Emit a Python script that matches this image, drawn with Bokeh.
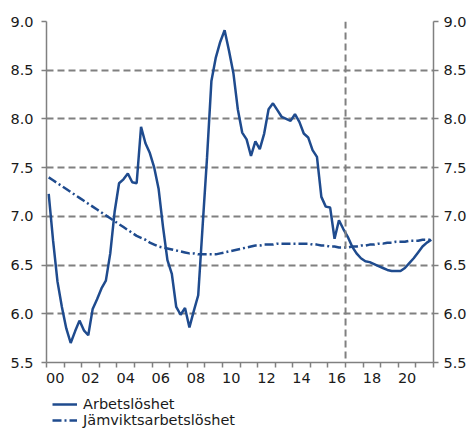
from bokeh.plotting import figure
from bokeh.layouts import column
from bokeh.models import (FixedTicker, LinearAxis, Range1d, Span, Legend, LegendItem,
                          PrintfTickFormatter, CustomJSTickFormatter)
from bokeh.embed import file_html
from bokeh.resources import INLINE

# ---- data (quarterly, 2000Q1 - 2021Q4) ----
start_year = 2000
unemployment = [
    7.23, 6.75, 6.33, 6.07, 5.85, 5.70, 5.82, 5.93, 5.83, 5.78,
    6.05, 6.15, 6.26, 6.34, 6.62, 7.05, 7.34, 7.38, 7.44, 7.35,
    7.34, 7.92, 7.75, 7.65, 7.50, 7.28, 6.89, 6.55, 6.41, 6.07,
    5.99, 6.06, 5.86, 6.03, 6.19, 6.90, 7.60, 8.39, 8.63, 8.79,
    8.91, 8.70, 8.47, 8.10, 7.86, 7.79, 7.62, 7.77, 7.69, 7.85,
    8.10, 8.16, 8.09, 8.02, 8.00, 7.98, 8.05, 7.97, 7.85, 7.81,
    7.68, 7.61, 7.20, 7.10, 7.09, 6.77, 6.96, 6.87, 6.79, 6.69,
    6.62, 6.57, 6.54, 6.53, 6.51, 6.49, 6.47, 6.45, 6.44, 6.44,
    6.44, 6.47, 6.52, 6.57, 6.63, 6.69, 6.73, 6.76,
]
equilibrium = [
    7.40, 7.37, 7.34, 7.31, 7.28, 7.25, 7.22, 7.19, 7.16, 7.13,
    7.10, 7.07, 7.04, 7.01, 6.98, 6.95, 6.92, 6.89, 6.86, 6.83,
    6.80, 6.78, 6.76, 6.73, 6.71, 6.69, 6.68, 6.67, 6.66, 6.65,
    6.64, 6.63, 6.62, 6.62, 6.61, 6.61, 6.61, 6.61, 6.61, 6.62,
    6.63, 6.64, 6.65, 6.66, 6.67, 6.68, 6.69, 6.70, 6.70, 6.71,
    6.71, 6.71, 6.72, 6.72, 6.72, 6.72, 6.72, 6.72, 6.72, 6.72,
    6.71, 6.71, 6.70, 6.70, 6.69, 6.69, 6.68, 6.68, 6.68, 6.69,
    6.69, 6.70, 6.70, 6.71, 6.71, 6.72, 6.72, 6.73, 6.73, 6.74,
    6.74, 6.74, 6.75, 6.75, 6.75, 6.76, 6.76, 6.76,
]
series_names = ["Arbetslöshet", "Jämviktsarbetslöshet"]
label_years = [2000, 2002, 2004, 2006, 2008, 2010, 2012, 2014, 2016, 2018, 2020]
year_bounds = list(range(2000, 2023))
y_ticks = [5.5, 6.0, 6.5, 7.0, 7.5, 8.0, 8.5, 9.0]
forecast_start = 2017

t = [start_year + (k + 0.5) / 4 for k in range(len(unemployment))]

BLUE = "#1f4b8e"
GRAY = "#808080"
TXT = "#1a1a1a"
FONT = "DejaVu Sans"
DASHDOT = "9 3 2 3"

p = figure(width=470, height=392, output_backend="svg", toolbar_location=None,
           x_range=Range1d(2000, 2022), y_range=Range1d(5.5, 9.0),
           min_border_left=46, min_border_right=37, min_border_top=21, min_border_bottom=30,
           x_axis_location=None, y_axis_location=None)
p.outline_line_color = None
p.background_fill_color = "white"
p.border_fill_color = "white"

# grid
p.xgrid.visible = False
p.ygrid.ticker = FixedTicker(ticks=[v for v in y_ticks if v > 5.5])
p.ygrid.grid_line_color = GRAY
p.ygrid.grid_line_dash = "7 4"
p.ygrid.grid_line_width = 2

p.add_layout(Span(location=forecast_start, dimension="height", line_color=GRAY,
                  line_dash="7 4", line_width=2))

# axes
def style_y(ax, standoff):
    ax.ticker = FixedTicker(ticks=y_ticks)
    ax.formatter = PrintfTickFormatter(format="%.1f")
    ax.axis_line_color = GRAY
    ax.axis_line_width = 1.5
    ax.major_tick_line_color = GRAY
    ax.major_tick_line_width = 1.5
    ax.major_tick_out = 5
    ax.major_tick_in = 0
    ax.minor_tick_line_color = None
    ax.major_label_standoff = standoff
    ax.major_label_text_font = FONT
    ax.major_label_text_font_size = "14.5px"
    ax.major_label_text_color = TXT

yl = LinearAxis()
style_y(yl, 8)
p.add_layout(yl, "left")
yr = LinearAxis()
style_y(yr, 5)
p.add_layout(yr, "right")

xa = LinearAxis()
xa.ticker = FixedTicker(ticks=[y + 0.5 for y in label_years], minor_ticks=year_bounds)
xa.formatter = CustomJSTickFormatter(code="return String(Math.floor(tick) % 100).padStart(2, '0');")
xa.axis_line_color = GRAY
xa.axis_line_width = 1.5
xa.major_tick_line_color = None
xa.major_tick_out = 0
xa.major_tick_in = 0
xa.minor_tick_line_color = GRAY
xa.minor_tick_line_width = 1.5
xa.minor_tick_out = 5
xa.minor_tick_in = 0
xa.major_label_standoff = 5
xa.major_label_text_font = FONT
xa.major_label_text_font_size = "14.5px"
xa.major_label_text_color = TXT
p.add_layout(xa, "below")

# lines
p.line(t, unemployment, line_color=BLUE, line_width=2.5)
p.line(t, equilibrium, line_color=BLUE, line_width=2.5, line_dash=DASHDOT)

# legend (separate strip below the chart; series lie outside its ranges)
lf = figure(width=470, height=36, output_backend="svg", toolbar_location=None,
            x_range=Range1d(0, 1), y_range=Range1d(0, 1),
            min_border_left=0, min_border_right=0, min_border_top=0, min_border_bottom=0,
            x_axis_location=None, y_axis_location=None)
lf.outline_line_color = None
lf.xgrid.visible = False
lf.ygrid.visible = False
l1 = lf.line(t, unemployment, line_color=BLUE, line_width=2.5)
l2 = lf.line(t, equilibrium, line_color=BLUE, line_width=2.5, line_dash=DASHDOT)
legend = Legend(items=[LegendItem(label=series_names[0], renderers=[l1]),
                       LegendItem(label=series_names[1], renderers=[l2])],
                location=(6, 0), orientation="vertical")
legend.border_line_color = None
legend.background_fill_alpha = 0
legend.padding = 0
legend.margin = 0
legend.spacing = 0
legend.glyph_width = 25
legend.glyph_height = 16
legend.label_height = 16
legend.label_standoff = 6
legend.label_text_font = FONT
legend.label_text_font_size = "14.5px"
legend.label_text_color = TXT
lf.add_layout(legend, "center")

open("out.html", "w").write(file_html(column(p, lf, spacing=0), INLINE))
